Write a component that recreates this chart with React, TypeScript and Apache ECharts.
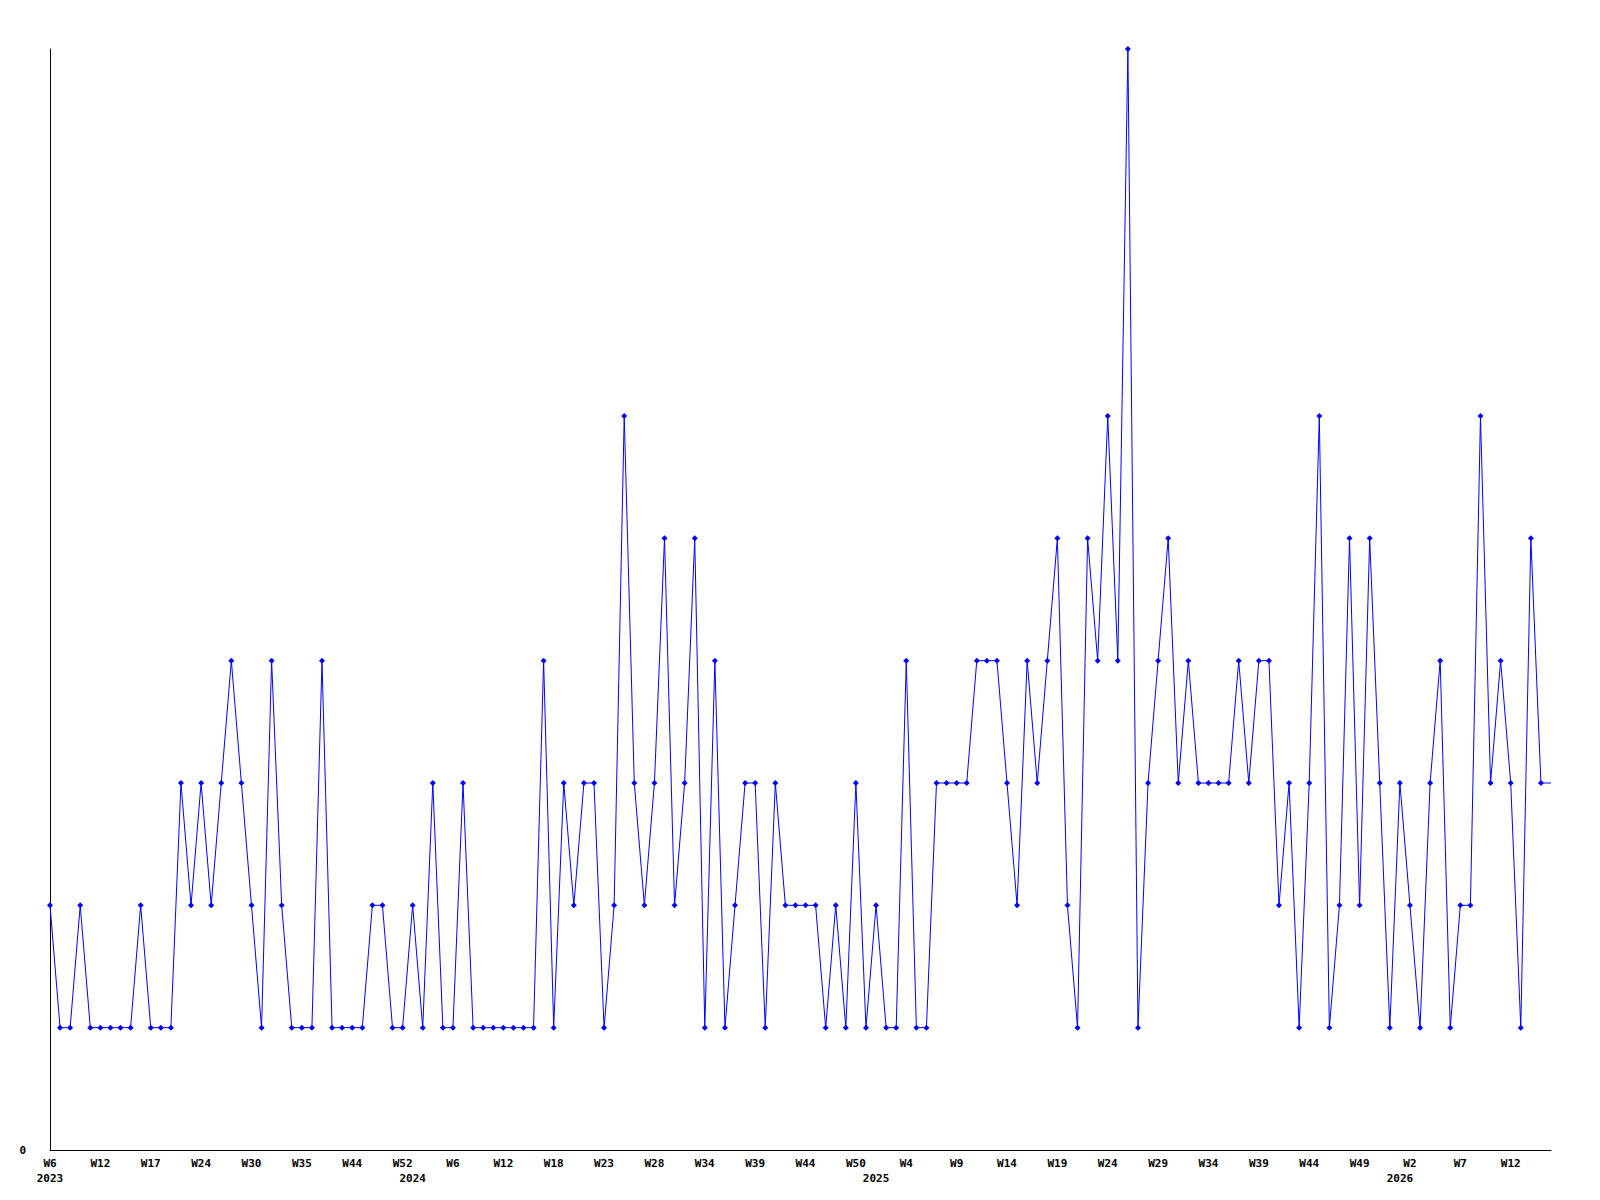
import React, { useEffect, useRef } from "react";
import * as echarts from "echarts";

// ISO-style week numbers of every sample, grouped by year
const weeks2023 = [6, 7, 8, 9, 11, 12, 13, 14, 15, 16, 17, 18, 20, 21, 22, 24, 25, 27, 28, 29, 30, 31, 32, 33, 34, 35, 37, 39, 40, 42, 44, 45, 47, 49, 50, 52];
const weeks2024 = [1, 2, 3, 5, 6, 7, 8, 9, 11, 12, 13, 14, 15, 17, 18, 19, 20, 21, 22, 23, 24, 25, 26, 27, 28, 29, 30, 31, 33, 34, 35, 36, 37, 38, 39, 40, 41, 42, 43, 44, 45, 46, 47, 49, 50, 51];
const weeks2025 = [1, 2, 3, 4, 5, 6, 7, 8, 9, 10, 11, 12, 13, 14, 15, 16, 17, 18, 19, 20, 21, 22, 23, 24, 25, 26, 27, 28, 29, 30, 31, 32, 33, 34, 35, 36, 37, 38, 39, 40, 41, 42, 43, 44, 45, 46, 47, 48, 49, 50, 51, 52];
const weeks2026 = [1, 2, 3, 4, 5, 6, 7, 8, 9, 10, 11, 12, 13, 14, 15, 16];

// values per sample (150 samples)
const values = [
  2, 1, 1, 2, 1, 1, 1, 1, 1, 2,
  1, 1, 1, 3, 2, 3, 2, 3, 4, 3,
  2, 1, 4, 2, 1, 1, 1, 4, 1, 1,
  1, 1, 2, 2, 1, 1, 2, 1, 3, 1,
  1, 3, 1, 1, 1, 1, 1, 1, 1, 4,
  1, 3, 2, 3, 3, 1, 2, 6, 3, 2,
  3, 5, 2, 3, 5, 1, 4, 1, 2, 3,
  3, 1, 3, 2, 2, 2, 2, 1, 2, 1,
  3, 1, 2, 1, 1, 4, 1, 1, 3, 3,
  3, 3, 4, 4, 4, 3, 2, 4, 3, 4,
  5, 2, 1, 5, 4, 6, 4, 9, 1, 3,
  4, 5, 3, 4, 3, 3, 3, 3, 4, 3,
  4, 4, 2, 3, 1, 3, 6, 1, 2, 5,
  2, 5, 3, 1, 3, 2, 1, 3, 4, 1,
  2, 2, 6, 3, 4, 3, 1, 5, 3, 3,
];

const yMin = 0;
const yMax = 9;
const labelEvery = 5;

const categories: string[] = [
  ...weeks2023.map((w) => `2023-W${w}`),
  ...weeks2024.map((w) => `2024-W${w}`),
  ...weeks2025.map((w) => `2025-W${w}`),
  ...weeks2026.map((w) => `2026-W${w}`),
];

export default function App() {
  const ref = useRef<HTMLDivElement>(null);

  useEffect(() => {
    if (!ref.current) return;
    const chart = echarts.init(ref.current, null, { renderer: "svg" });

    const yearOf = (i: number) => categories[i].split("-")[0];
    const isYearStart = (i: number) => i === 0 || yearOf(i) !== yearOf(i - 1);

    const data = values.map((v, i) =>
      i === values.length - 1 ? { value: v, symbol: "none" } : v
    );

    chart.setOption({
      animation: false,
      backgroundColor: "#ffffff",
      grid: { left: 50, right: 49, top: 49, bottom: 50, containLabel: false },
      xAxis: {
        type: "category",
        data: categories,
        boundaryGap: false,
        axisLine: { show: true, lineStyle: { color: "#000000", width: 1 } },
        axisTick: { show: false },
        splitLine: { show: false },
        axisLabel: {
          interval: (index: number) => index % labelEvery === 0 || isYearStart(index),
          formatter: (value: string, index: number) => {
            const parts = value.split("-");
            const week = index % labelEvery === 0 ? parts[1] : "";
            const year = isYearStart(index) ? "\n" + parts[0] : "";
            return week + year;
          },
          color: "#000000",
          fontFamily: "DejaVu Sans Mono",
          fontWeight: "bold",
          fontSize: 11,
          lineHeight: 15,
          margin: 6,
          hideOverlap: false,
        },
      },
      yAxis: {
        type: "value",
        min: yMin,
        max: yMax,
        interval: yMax - yMin,
        axisLine: { show: true, lineStyle: { color: "#000000", width: 1 } },
        axisTick: { show: false },
        splitLine: { show: false },
        axisLabel: {
          formatter: (v: number) => (v === yMin ? String(v) : ""),
          color: "#000000",
          fontFamily: "DejaVu Sans Mono",
          fontWeight: "bold",
          fontSize: 11,
          margin: 24,
        },
      },
      series: [
        {
          type: "line",
          data,
          symbol: "diamond",
          symbolSize: 6,
          showAllSymbol: true,
          lineStyle: { color: "#0000ff", width: 1 },
          itemStyle: { color: "#0000ff" },
          emphasis: { disabled: true },
        },
      ],
    });

    return () => chart.dispose();
  }, []);

  return (
    <div
      ref={ref}
      style={{ position: "fixed", left: 0, top: 0, width: "1600px", height: "1200px", background: "#fff" }}
    />
  );
}
